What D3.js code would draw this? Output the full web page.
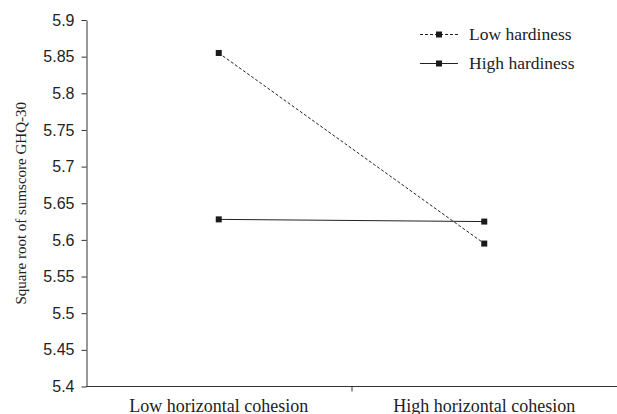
<!DOCTYPE html>
<html>
<head>
<meta charset="utf-8">
<script src="https://cdn.jsdelivr.net/npm/d3@7"></script>
<style>
body { margin: 0; background: #fff; }
svg { display: block; }
</style>
</head>
<body>
<svg width="617" height="414"></svg>
<script>
var categories = ['Low horizontal cohesion', 'High horizontal cohesion'];
var series = ['Low hardiness', 'High hardiness'];
var lowHardiness = [5.855, 5.595];
var highHardiness = [5.628, 5.625];
var yTicks = [5.4, 5.45, 5.5, 5.55, 5.6, 5.65, 5.7, 5.75, 5.8, 5.85, 5.9];

var margins = {T: 20, B: 27, L: 86, R: 0};
var W = 617, H = 414;

var svg = d3.select('svg');

var x = d3.scaleBand()
		.domain(categories)
		.range([margins.L, W - margins.R]);
var y = d3.scaleLinear()
		.domain([5.4, 5.9])
		.range([H - margins.B - 0.5, margins.T]);

var yAxis = d3.axisLeft(y)
		.tickValues(yTicks)
		.tickFormat(function(d) { return d3.format('')(+d.toFixed(2)); })
		.tickSize(5)
		.tickSizeOuter(0);

var gy = svg.append('g')
		.attr('transform', 'translate(' + (margins.L + 0.5) + ',0)')
		.call(yAxis);
gy.selectAll('text')
		.attr('font-family', '"Liberation Sans", Arial, sans-serif')
		.attr('font-size', 16)
		.attr('fill', '#222')
		.attr('x', -12);
gy.selectAll('line, path').attr('stroke', '#333');

// x axis baseline with a single divider tick
var gx = svg.append('g');
gx.append('line')
		.attr('x1', margins.L).attr('x2', W)
		.attr('y1', y(5.4)).attr('y2', y(5.4))
		.attr('stroke', '#333');
gx.append('line')
		.attr('x1', x(categories[1]) + 0.5).attr('x2', x(categories[1]) + 0.5)
		.attr('y1', y(5.4)).attr('y2', y(5.4) + 5)
		.attr('stroke', '#333');
gx.selectAll('text.cat')
		.data(categories)
		.enter().append('text')
		.attr('class', 'cat')
		.attr('x', function(d) { return x(d) + x.bandwidth() / 2; })
		.attr('y', 412)
		.attr('text-anchor', 'middle')
		.attr('font-family', '"Liberation Serif", "Times New Roman", serif')
		.attr('font-size', 18)
		.attr('fill', '#222')
		.text(function(d) { return d; });

svg.append('text')
		.attr('transform', 'translate(26,' + (margins.T + (y(5.4) - margins.T) / 2) + ') rotate(-90)')
		.attr('text-anchor', 'middle')
		.attr('font-family', '"Liberation Serif", "Times New Roman", serif')
		.attr('font-size', 15)
		.attr('fill', '#222')
		.text('Square root of sumscore GHQ-30');

var line = d3.line()
		.x(function(d, i) { return x(categories[i]) + x.bandwidth() / 2; })
		.y(function(d) { return y(d); });

var data = [
	{name: series[0], values: lowHardiness, dash: '3,2'},
	{name: series[1], values: highHardiness, dash: null}
];

data.forEach(function(s) {
	svg.append('path')
			.attr('d', line(s.values))
			.attr('fill', 'none')
			.attr('stroke', '#222')
			.attr('stroke-width', 1)
			.attr('stroke-dasharray', s.dash);
	svg.selectAll(null)
			.data(s.values)
			.enter().append('rect')
			.attr('x', function(d, i) { return x(categories[i]) + x.bandwidth() / 2 - 3; })
			.attr('y', function(d) { return y(d) - 3; })
			.attr('width', 6)
			.attr('height', 6)
			.attr('fill', '#1a1a1a');
});

// legend
var legend = svg.append('g').attr('transform', 'translate(420,34.5)');
data.forEach(function(s, i) {
	var g = legend.append('g').attr('transform', 'translate(0,' + (i * 29) + ')');
	g.append('line')
			.attr('x1', 0).attr('x2', 38)
			.attr('stroke', '#222')
			.attr('stroke-dasharray', s.dash);
	g.append('rect')
			.attr('x', 16).attr('y', -3)
			.attr('width', 6).attr('height', 6)
			.attr('fill', '#1a1a1a');
	g.append('text')
			.attr('x', 49)
			.attr('y', 5.5)
			.attr('font-family', '"Liberation Serif", "Times New Roman", serif')
			.attr('font-size', 17.5)
			.attr('fill', '#222')
			.text(s.name);
});
</script>
</body>
</html>
